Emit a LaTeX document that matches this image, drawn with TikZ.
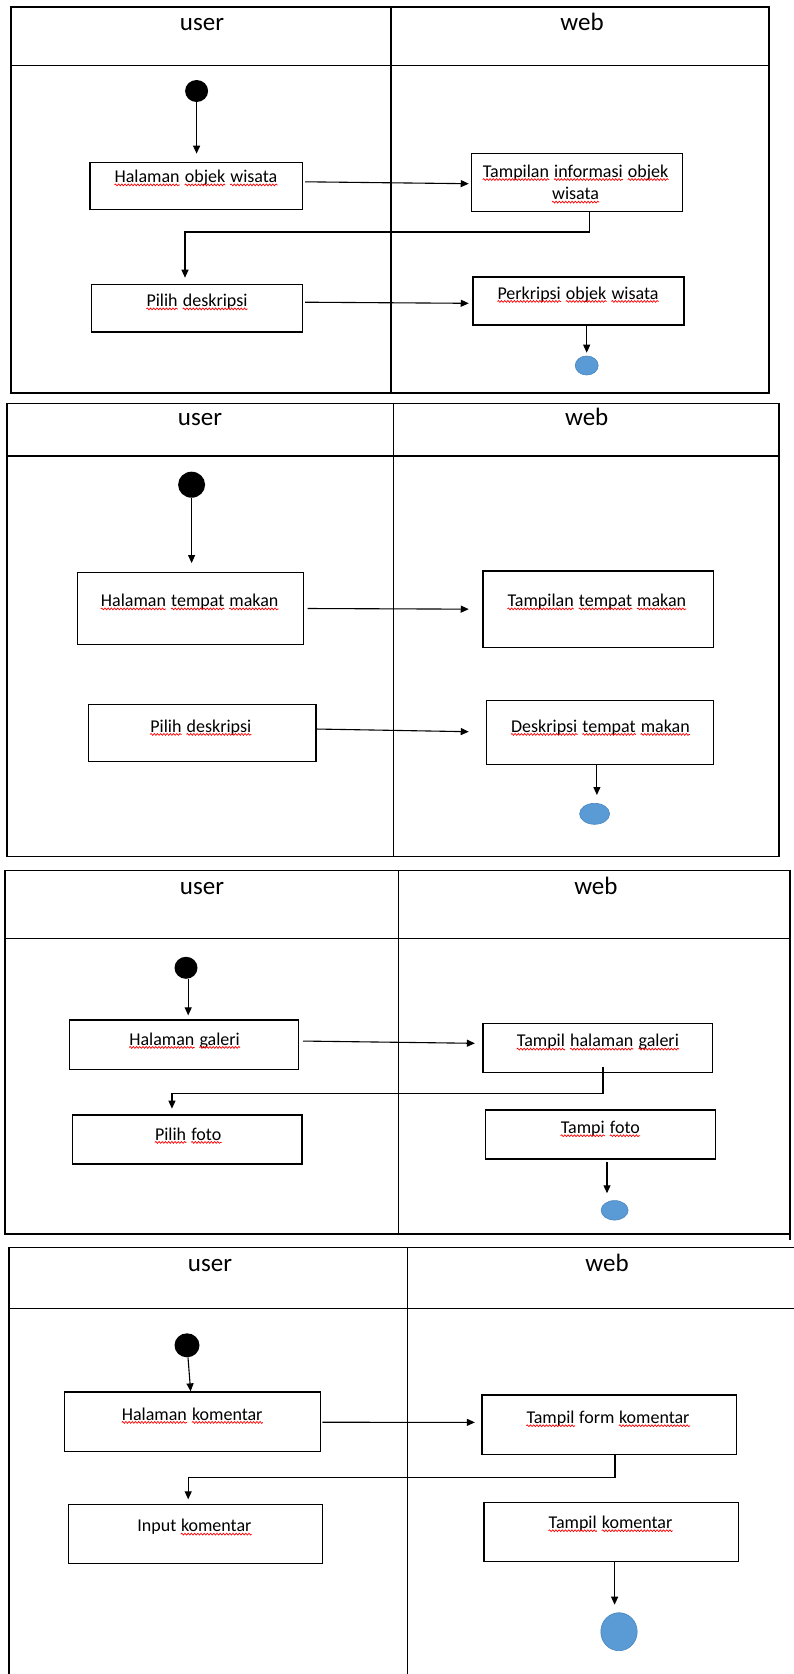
\documentclass[tikz,border=0pt]{standalone}
\usepackage{fontspec}
\setmainfont{Carlito}
\usetikzlibrary{arrows.meta,shapes.geometric,decorations.pathmorphing}
\definecolor{endblue}{HTML}{5B9BD5}
\definecolor{endedge}{HTML}{4A86C0}
\newcommand\redsq[1]{\tikz[baseline=(W.base)]{\node[inner sep=0pt, anchor=base, draw=none, fill=none] (W) {#1};\draw[red, line width=0.7pt, decorate, decoration={snake, amplitude=0.9pt, segment length=3.2pt}] ([yshift=-2.4pt]W.base west) -- ([yshift=-2.4pt]W.base east);}}
\tikzset{
  lane/.style={draw=black, line width=1.3pt},
  box/.style={draw=black, line width=1.3pt, rectangle, inner sep=0pt},
  txt/.style={inner sep=0pt, font=\fontsize{18}{22.6}\selectfont, anchor=base, align=center},
  hdr/.style={inner sep=0pt, font=\fontsize{25}{30}\selectfont, anchor=base},
  flow/.style={draw=black, line width=1.1pt, -{Triangle[length=8pt,width=7pt]}},
  startdot/.style={ellipse, fill=black, inner sep=0pt},
  enddot/.style={ellipse, fill=endblue, draw=endedge, line width=0.6pt, inner sep=0pt},
}
\begin{document}
\begin{tikzpicture}[x=1pt,y=-1pt]
\useasboundingbox[fill=white] (0,0) rectangle (794,1674);

% ===================== Diagram 1 =====================
\draw[lane] (11,7) rectangle (769,393);
\draw[lane] (11,65.7) -- (769,65.7);
\draw[lane] (391,7) -- (391,393);
\node[hdr] (u1) at (202,30) {user};
\node[hdr] (w1) at (582,30) {web};
\node[startdot, minimum width=23pt, minimum height=22pt] (s1) at (196.6,91) {};
\node[box, minimum width=212.5pt, minimum height=47pt] (a1) at (196.25,185.8) {};
\node[txt] (ta1) at (196,182.5) {\redsq{Halaman} \redsq{objek} \redsq{wisata}};
\node[box, minimum width=211pt, minimum height=58pt] (a2) at (576.9,182.3) {};
\node[txt, anchor=center] (ta2) at (575.6,184) {\redsq{Tampilan} \redsq{informasi} \redsq{objek}\\ \redsq{wisata}};
\node[box, minimum width=211pt, minimum height=47.7pt] (a3) at (197,308.2) {};
\node[txt] (ta3) at (197,306.5) {\redsq{Pilih} \redsq{deskripsi}};
\node[box, minimum width=211pt, minimum height=48pt] (a4) at (578.5,301) {};
\node[txt] (ta4) at (578,299) {\redsq{Perkripsi} \redsq{objek} \redsq{wisata}};
\node[enddot, minimum width=23pt, minimum height=19pt] (e1) at (586.7,365.5) {};
\draw[flow, shorten >=8pt] (s1) -- (s1 |- a1.north);
\draw[flow] ([xshift=2pt,yshift=4pt]a1.east) -- ([xshift=-2pt,yshift=-1.4pt]a2.west);
\draw[flow] ([xshift=12.9pt]a2.south) -- ++(0,20) -| ([xshift=-12pt,yshift=6pt]a3.north);
\draw[flow] ([xshift=2pt,yshift=6pt]a3.east) -- ([xshift=-3.6pt,yshift=-2.3pt]a4.west);
\draw[flow, shorten >=3pt] (a4.south -| e1) -- (e1.north);

% ===================== Diagram 2 =====================
\draw[lane] (7,403.3) rectangle (779,856.7);
\draw[lane] (7,456) -- (779,456);
\draw[lane] (393.5,403.3) -- (393.5,856.7);
\node[hdr] (u2) at (200,425.5) {user};
\node[hdr] (w2) at (586.7,425.5) {web};
\node[startdot, minimum width=27pt, minimum height=26pt] (s2) at (191.6,484.7) {};
\node[box, minimum width=226.1pt, minimum height=71.6pt] (b1) at (190.45,608.5) {};
\node[txt] (tb1) at (189.7,606.5) {\redsq{Halaman} \redsq{tempat} \redsq{makan}};
\node[box, minimum width=230.2pt, minimum height=76.7pt] (b2) at (598.1,609.35) {};
\node[txt] (tb2) at (596.9,606.5) {\redsq{Tampilan} \redsq{tempat} \redsq{makan}};
\node[box, minimum width=227.6pt, minimum height=57.4pt] (b3) at (202.3,733) {};
\node[txt] (tb3) at (200.8,732) {\redsq{Pilih} \redsq{deskripsi}};
\node[box, minimum width=226.6pt, minimum height=64pt] (b4) at (599.9,732.3) {};
\node[txt] (tb4) at (600.4,732) {\redsq{Deskripsi} \redsq{tempat} \redsq{makan}};
\node[enddot, minimum width=30pt, minimum height=21pt] (e2) at (594.6,813.8) {};
\draw[flow, shorten >=9pt] (s2) -- (s2 |- b1.north);
\draw[flow] ([xshift=3.5pt]b1.east) -- ([xshift=-13.6pt,yshift=0.2pt]b2.west);
\draw[flow] ([xshift=-1.5pt,yshift=4pt]b3.east) -- ([xshift=-17.2pt,yshift=0.6pt]b4.west);
\draw[flow, shorten >=8pt] ([xshift=-3pt]b4.south) -- ([xshift=-3pt]b4.south |- e2.north);

% ===================== Diagram 3 =====================
\draw[lane] (5,870.7) rectangle (790,1234);
\draw[lane] (790,1234) -- (790,1240);
\draw[lane] (5,938.7) -- (790,938.7);
\draw[lane] (398.6,870.7) -- (398.6,1234);
\node[hdr] (u3) at (202,894) {user};
\node[hdr] (w3) at (595.9,894) {web};
\node[startdot, minimum width=23pt, minimum height=22pt] (s3) at (186,967.8) {};
\node[box, minimum width=229.1pt, minimum height=49.3pt] (c1) at (183.85,1044.65) {};
\node[txt] (tc1) at (184.6,1045) {\redsq{Halaman} \redsq{galeri}};
\node[box, minimum width=229.2pt, minimum height=49pt] (c2) at (597.6,1047.8) {};
\node[txt] (tc2) at (597.9,1046.7) {\redsq{Tampil} \redsq{halaman} \redsq{galeri}};
\node[box, minimum width=229.7pt, minimum height=49pt] (c3) at (187.15,1139.5) {};
\node[txt] (tc3) at (188.2,1140) {\redsq{Pilih} \redsq{foto}};
\node[box, minimum width=229.6pt, minimum height=49pt] (c4) at (600.4,1134.5) {};
\node[txt] (tc4) at (600.4,1133.3) {\redsq{Tampi} \redsq{foto}};
\node[enddot, minimum width=27pt, minimum height=19.5pt] (e3) at (614.6,1210.3) {};
\draw[flow, shorten >=4pt] ([xshift=2.2pt]s3.south) -- ([xshift=2.2pt]s3.south |- c1.north);
\draw[flow] ([xshift=4.1pt,yshift=3.6pt]c1.east) -- ([xshift=-7.5pt,yshift=4.5pt]c2.west);
\draw[flow] ([xshift=5.4pt,yshift=5.6pt]c2.south) -- ++(0,26) -| ([xshift=-15.2pt,yshift=5.7pt]c3.north);
\draw[flow, shorten >=7pt] ([xshift=6.6pt,yshift=-2.7pt]c4.south) -- ([xshift=6.6pt]c4.south |- e3.north);

% ===================== Diagram 4 =====================
\draw[lane] (794,1247.3) -- (9,1247.3) -- (9,1674);
\draw[lane] (9,1308.7) -- (794,1308.7);
\draw[lane] (407.7,1247.3) -- (407.7,1674);
\node[hdr] (u4) at (210,1271.5) {user};
\node[hdr] (w4) at (607,1271.5) {web};
\node[startdot, minimum width=25pt, minimum height=24pt] (s4) at (187,1345.3) {};
\node[box, minimum width=255.5pt, minimum height=59.3pt] (d1) at (192.45,1421.65) {};
\node[txt] (td1) at (192.2,1420) {\redsq{Halaman} \redsq{komentar}};
\node[box, minimum width=254.5pt, minimum height=59.7pt] (d2) at (609.25,1424.85) {};
\node[txt] (td2) at (608,1423.3) {\redsq{Tampil} form \redsq{komentar}};
\node[box, minimum width=254.4pt, minimum height=59pt] (d3) at (195.5,1533.8) {};
\node[txt] (td3) at (194.7,1531.7) {Input \redsq{komentar}};
\node[box, minimum width=254.5pt, minimum height=59.4pt] (d4) at (611.25,1532) {};
\node[txt] (td4) at (610.5,1528.3) {\redsq{Tampil} \redsq{komentar}};
\node[enddot, minimum width=36.4pt, minimum height=38pt] (e4) at (619,1631.7) {};
\draw[flow] ([xshift=1pt]s4.south) -- ([xshift=-1.8pt]d1.north);
\draw[flow] ([xshift=1.5pt,yshift=-0.6pt]d1.east) -- ([xshift=-6.5pt,yshift=2.5pt]d2.west);
\draw[flow] ([xshift=5.75pt]d2.south) -- ++(0,22) -| ([xshift=-7.3pt,yshift=4.3pt]d3.north);
\draw[flow, shorten >=7.7pt] ([xshift=3.35pt]d4.south) -- ([xshift=3.35pt]d4.south |- e4.north);
\end{tikzpicture}
\end{document}
